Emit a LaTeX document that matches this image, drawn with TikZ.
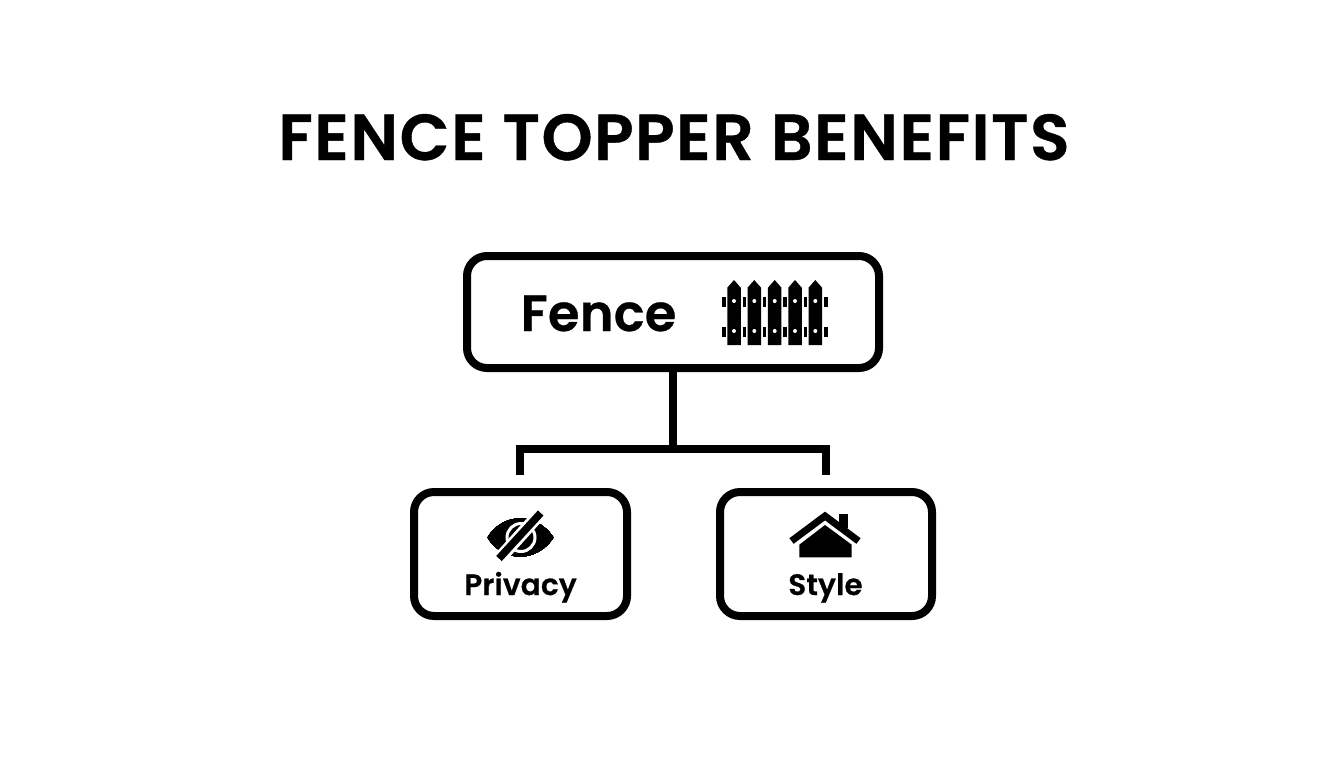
\documentclass[tikz,border=0pt]{standalone}
\usepackage{fontspec}
\setmainfont{Poppins}
\newfontfamily\semi[FakeBold=0.6, LetterSpace=0.6]{Poppins SemiBold}
\newfontfamily\semiwide[FakeBold=0.6, LetterSpace=2.3]{Poppins SemiBold}
\tikzstyle{panel} = [draw=black, line width=8pt, rounded corners=20pt, minimum height=112pt, inner sep=0pt]
\tikzstyle{wire} = [draw=black, line width=7.5pt]
\tikzstyle{caption} = [anchor=base, font=\semi\fontsize{29.5}{29.5}\selectfont]
\newcommand{\pale}[1]{
	\fill (#1-6.75,345) -- (#1-6.75,287.7) -- (#1,280) -- (#1+6.75,287.7) -- (#1+6.75,345) -- cycle;
	\fill[white] (#1,301) circle (2) (#1,331) circle (2);
}
\newcommand{\rail}[1]{
	\fill (#1-1.7,296.7) rectangle (#1+1.7,306.7);
	\fill (#1-1.7,326.7) rectangle (#1+1.7,336.7);
}

\begin{document}
\begin{tikzpicture}[x=1pt, y=-1pt]
	\useasboundingbox (0,0) rectangle (1344,768);
	\fill[white] (0,0) rectangle (1344,768);
	\node[anchor=base, font=\semiwide\fontsize{65}{65}\selectfont] (title) at (674,160) {FENCE TOPPER BENEFITS};
	\node[panel, minimum width=412pt] (fence) at (673,312) {};
	\node[panel, minimum width=213pt, minimum height=124pt] (privacy) at (520.5,554) {};
	\node[panel, minimum width=212pt, minimum height=124pt] (style) at (826,554) {};
	\node[anchor=base, font=\semi\fontsize{51}{51}\selectfont] (fencetext) at (598.5,331) {Fence};
	\node[caption] (privacytext) at (520.5,595) {Privacy};
	\node[caption] (styletext) at (825.5,595) {Style};
	\coordinate (fork) at (673,449);
	\coordinate (privacyend) at (520,475);
	\coordinate (styleend) at (826,475);
	\draw[wire] (fence.south) -- (fork);
	\draw[wire] (privacyend) |- (fork) -| (styleend);
	\foreach \x in {734,754.3,774.7,795,815.3}
		\pale{\x}
	\foreach \x in {724,744.3,764.7,785,805.3,826}
		\rail{\x}
	\fill (487.5,537.5) .. controls (503,512) and (537,512) .. (553.5,537.5) .. controls (537,563) and (503,563) .. (487.5,537.5) -- cycle;
	\draw[white, line width=3pt] (521,537.5) circle (14);
	\draw[white, line width=13pt] (540,513.5) -- (500,558);
	\draw[black, line width=7.5pt] (540.7,513) -- (499,558.5);
	\draw[black, line width=7pt, line join=miter] (791.5,541) -- (825,516) -- (858.5,541);
	\fill (839.3,514.3) rectangle (848.3,528);
	\fill (799.3,544.7) -- (825,525) -- (851.7,544.7) -- (851.7,557.3) -- (799.3,557.3) -- cycle;
\end{tikzpicture}
\end{document}
